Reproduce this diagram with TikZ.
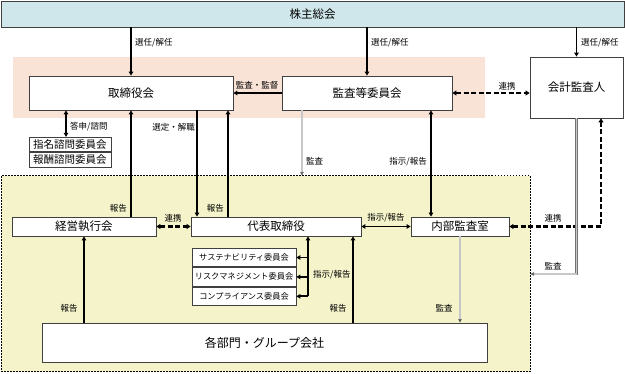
\documentclass[tikz,border=0pt]{standalone}
\usepackage{fontspec}
\setmainfont{Noto Sans CJK JP}
\usetikzlibrary{arrows.meta}
\definecolor{sbblue}{HTML}{CFE6EB}
\definecolor{bgpink}{HTML}{F9E3D6}
\definecolor{bgyellow}{HTML}{F4F3CA}
\begin{document}
\begin{tikzpicture}[x=1pt,y=-1pt,
  box/.style={draw=black!75, line width=0.8pt, fill=white, inner sep=0pt, font=\fontsize{11.5}{12}\selectfont},
  cbox/.style={draw=black!75, line width=0.7pt, fill=white, inner sep=0pt, font=\fontsize{8.2}{9}\selectfont, minimum width=104, minimum height=18.7},
  nbox/.style={draw=black!75, line width=0.7pt, fill=white, inner sep=0pt, font=\fontsize{10.5}{11}\selectfont, minimum width=82, minimum height=14.5},
  lbl/.style={font=\fontsize{8.5}{9}\selectfont, inner sep=0pt},
  arr/.style={line width=1.9pt, -{Triangle[length=4pt,width=4.5pt]}},
  darr/.style={line width=1.9pt, {Triangle[length=4pt,width=4.5pt]}-{Triangle[length=4pt,width=4.5pt]}},
  dasharr/.style={line width=2.2pt, dash pattern=on 5pt off 2.5pt, {Triangle[length=4pt,width=5pt]}-{Triangle[length=4pt,width=5pt]}},
  garr/.style={draw=black!55, double=black!22, double distance=1.6pt, line width=0.6pt, -{Triangle[length=3.5pt,width=3.5pt,fill=black]}}
]
\useasboundingbox (0,0) rectangle (625,374);
% backgrounds
\node[fill=bgpink, inner sep=0pt, minimum width=472, minimum height=61] (pink) at (249,87.5) {};
\node[fill=bgyellow, draw=black, line width=1pt, dash pattern=on 1.5pt off 1.5pt, inner sep=0pt, minimum width=529, minimum height=196] (exec) at (265.5,274) {};
% boxes
\node[box, fill=sbblue, minimum width=623, minimum height=26] (sh) at (312.5,14) {株主総会};
\node[box, minimum width=204, minimum height=34] (bod) at (131,93) {取締役会};
\node[box, minimum width=170, minimum height=34] (ac) at (367,93) {監査等委員会};
\node[box, minimum width=93, minimum height=61] (ca) at (576.5,87.5) {会計監査人};
\node[nbox] (nom) at (70,144.5) {指名諮問委員会};
\node[nbox, anchor=north] (rem) at (nom.south) {報酬諮問委員会};
\node[box, minimum width=144, minimum height=19] (mgmt) at (84,226.5) {経営執行会};
\node[box, minimum width=170, minimum height=19] (rep) at (276,226.5) {代表取締役};
\node[box, minimum width=98, minimum height=19] (ia) at (460,226.5) {内部監査室};
\node[cbox] (c1) at (244,257.5) {サステナビリティ委員会};
\node[cbox, anchor=north] (c2) at (c1.south) {リスクマネジメント委員会};
\node[cbox, anchor=north] (c3) at (c2.south) {コンプライアンス委員会};
\node[box, font=\fontsize{12}{13}\selectfont, minimum width=445, minimum height=39] (dept) at (264.5,342.5) {各部門・グループ会社};
% shareholders -> elect
\draw[arr] (sh.south -| bod.north) -- (bod.north);
\draw[arr] (sh.south -| ac.north) -- (ac.north);
\draw[arr] (sh.south -| ca.north) -- (ca.north);
\node[lbl, anchor=west] at (135,43) {選任/解任};
\node[lbl, anchor=west] at (371,43) {選任/解任};
\node[lbl, anchor=west] at (581,43) {選任/解任};
% audit committee -> board
\draw[arr] (ac.west) -- (bod.east);
\node[lbl] at (257,85) {監査・監督};
\draw[dasharr] (ac.east) -- (ca.west |- ac.east);
\node[lbl] at (507,86) {連携};
% board <-> nomination
\draw[darr] (bod.south -| 66,0) -- (nom.north -| 66,0);
\node[lbl, anchor=west] at (70,127) {答申/諮問};
% board <-> exec
\draw[arr] (mgmt.north -| 131,0) -- (bod.south -| 131,0);
\node[lbl, anchor=east] at (127,208) {報告};
\draw[arr] (bod.south -| 197,0) -- (rep.north -| 197,0);
\node[lbl, anchor=east] at (195,127) {選定・解職};
\draw[arr] (rep.north -| 228,0) -- (bod.south -| 228,0);
\node[lbl, anchor=east] at (224,208) {報告};
\draw[dasharr] (mgmt.east) -- (rep.west);
\node[lbl] at (173,218) {連携};
% audit committee -> exec area
\draw[garr] (ac.south -| 302,0) -- (exec.north -| 302,0);
\node[lbl, anchor=west] at (306,161) {監査};
\draw[darr] (ac.south -| 431,0) -- (ia.north -| 431,0);
\node[lbl, anchor=east] at (427,162) {指示/報告};
% rep <-> internal audit
\draw[darr] (rep.east) -- (ia.west);
\node[lbl] at (386,218) {指示/報告};
% internal audit <-> accounting auditor
\draw[dasharr] (ia.east) -| ([xshift=24.5]ca.south);
\node[lbl] at (553,218) {連携};
\draw[garr] (ca.south) |- (exec.east |- 0,274);
\node[lbl] at (553,266) {監査};
% internal audit -> departments
\draw[garr] (ia.south) -- (dept.north -| ia.south);
\node[lbl] at (444,308) {監査};
% departments -> report
\draw[arr] (dept.north -| mgmt.south) -- (mgmt.south);
\node[lbl] at (69,308) {報告};
\draw[arr] (dept.north -| 353,0) -- (rep.south -| 353,0);
\node[lbl] at (338,308) {報告};
% committees
\draw[arr] (c3.east -| 308,0) -- (rep.south -| 308,0);
\draw[arr] (c1.east -| 308,0) -- (c1.east);
\draw[arr] (c2.east -| 308,0) -- (c2.east);
\draw[arr] (c3.east -| 308,0) -- (c3.east);
\node[lbl, anchor=west] at (313,275) {指示/報告};
\end{tikzpicture}
\end{document}
